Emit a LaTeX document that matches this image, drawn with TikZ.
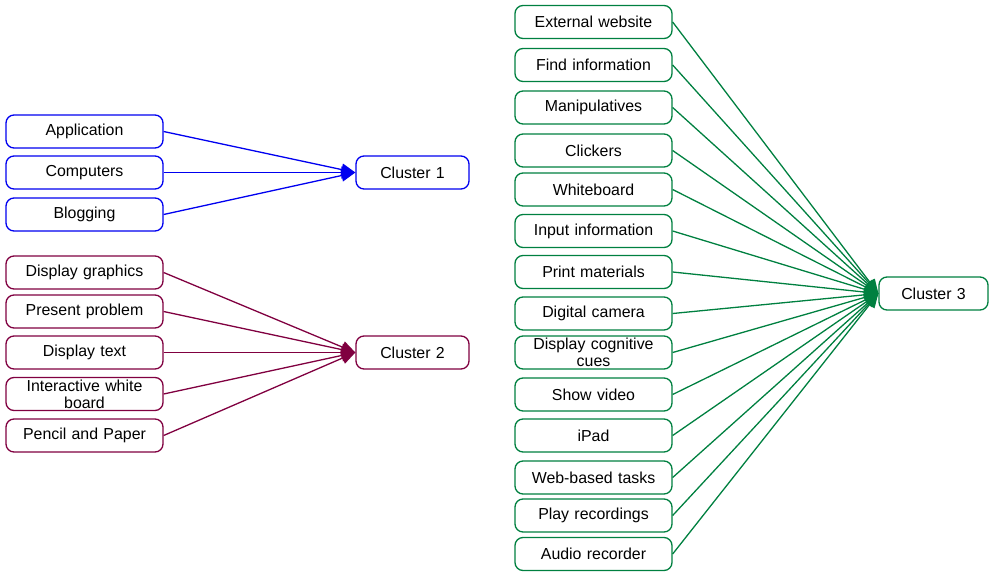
\documentclass[tikz,border=0pt]{standalone}
\usepackage{fontspec}
\setmainfont{Liberation Sans}
\usetikzlibrary{arrows.meta}
\definecolor{cblue}{RGB}{0,0,240}
\definecolor{cmaroon}{RGB}{128,0,64}
\definecolor{cgreen}{RGB}{0,128,64}
\tikzset{
  item/.style={draw, rounded corners=8pt, line width=1.3pt, fill=white,
    minimum width=157pt, minimum height=33pt, inner sep=1pt,
    text width=152pt, align=center,
    font=\fontsize{15.9}{17}\selectfont, text=black},
  clusterbox/.style={item, minimum width=113pt, text width=106pt},
  link/.style={line width=1.3pt, -{Triangle[length=14pt,width=12pt]}},
}
\begin{document}
\begin{tikzpicture}[x=1pt,y=-1pt]
\useasboundingbox (0,0) rectangle (989,571);

% Cluster 1
\begin{scope}[every node/.append style={draw=cblue}]
\node[item] (app) at (84.5,131.5) {Application};
\node[item] (comp) at (84.5,172.5) {Computers};
\node[item] (blog) at (84.5,214.5) {Blogging};
\node[clusterbox] (c1) at (412.5,172.5) {Cluster 1};
\end{scope}
\foreach \n in {app,comp,blog}
  \draw[link, cblue] (\n.east) -- (c1.west);

% Cluster 2
\begin{scope}[every node/.append style={draw=cmaroon}]
\node[item] (dgra) at (84.5,272.5) {Display graphics};
\node[item] (pprob) at (84.5,311.5) {Present problem};
\node[item] (dtext) at (84.5,352.5) {Display text};
\node[item] (iwb) at (84.5,394) {Interactive white\\board};
\node[item] (pp) at (84.5,435.5) {Pencil and Paper};
\node[clusterbox] (c2) at (412.5,352.5) {Cluster 2};
\end{scope}
\foreach \n in {dgra,pprob,dtext,iwb,pp}
  \draw[link, cmaroon] (\n.east) -- (c2.west);

% Cluster 3
\begin{scope}[every node/.append style={draw=cgreen}]
\node[item] (ext) at (593.5,22) {External website};
\node[item] (find) at (593.5,65) {Find information};
\node[item] (manip) at (593.5,107.5) {Manipulatives};
\node[item] (click) at (593.5,150.5) {Clickers};
\node[item] (wb) at (593.5,189.5) {Whiteboard};
\node[item] (inp) at (593.5,231) {Input information};
\node[item] (print) at (593.5,272) {Print materials};
\node[item] (cam) at (593.5,313.5) {Digital camera};
\node[item] (cues) at (593.5,352.5) {Display cognitive\\cues};
\node[item] (vid) at (593.5,394.5) {Show video};
\node[item] (ipad) at (593.5,435.5) {iPad};
\node[item] (web) at (593.5,477.5) {Web-based tasks};
\node[item] (rec) at (593.5,515.5) {Play recordings};
\node[item] (audio) at (593.5,554) {Audio recorder};
\node[clusterbox, minimum width=109pt, text width=102pt] (c3) at (933.5,293.5) {Cluster 3};
\end{scope}
\foreach \n in {ext,find,manip,click,wb,inp,print,cam,cues,vid,ipad,web,rec,audio}
  \draw[link, cgreen] (\n.east) -- (c3.west);
\end{tikzpicture}
\end{document}
